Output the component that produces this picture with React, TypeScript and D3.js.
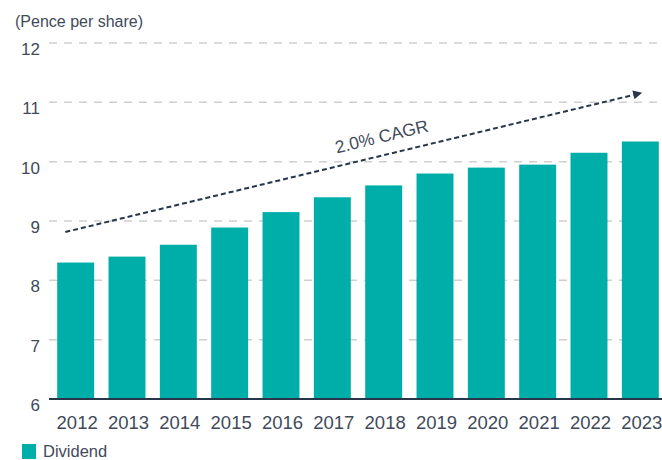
import React from "react";
import * as d3 from "d3";

const years = ["2012", "2013", "2014", "2015", "2016", "2017", "2018", "2019", "2020", "2021", "2022", "2023"];
const dividend = [8.3, 8.4, 8.6, 8.89, 9.15, 9.4, 9.6, 9.8, 9.9, 9.95, 10.15, 10.34];
const yTicks = [6, 7, 8, 9, 10, 11, 12];
const unitLabel = "(Pence per share)";
const seriesName = "Dividend";
const cagrLabel = "2.0% CAGR";
const trendStart = 8.815;
const trendEnd = 11.16;

const W = 662;
const H = 460;
const TEAL = "#00aea9";
const TEXT = "#3f4a5a";
const DARK = "#27364a";
const FONT = "'Liberation Sans', Arial, Helvetica, sans-serif";

export default function App() {
  const x = d3.scaleBand<string>().domain(years).range([50, 666]).paddingInner(0.28).paddingOuter(0.14);
  const y = d3.scaleLinear().domain([6, 12]).range([399, 43]);
  const bw = x.bandwidth();

  const x0 = (x(years[0]) as number) + bw * 0.22;
  const y0 = y(trendStart);
  const x1 = (x(years[years.length - 1]) as number) + bw * 0.55;
  const y1 = y(trendEnd);
  const ang = Math.atan2(y1 - y0, x1 - x0);
  const angDeg = (ang * 180) / Math.PI;
  const ah = 9, aw = 4.5;
  const bx = x1 - ah * Math.cos(ang), by = y1 - ah * Math.sin(ang);
  const px = -Math.sin(ang), py = Math.cos(ang);
  const head = `${x1},${y1} ${bx + px * aw},${by + py * aw} ${bx - px * aw},${by - py * aw}`;
  const tx = 383;
  const lineY = y0 + (tx - x0) * Math.tan(ang);
  const off = 13;

  return (
    <svg width={W} height={H} style={{ position: "absolute", left: 0, top: 0 }} fontFamily={FONT}>
      <rect width={W} height={H} fill="#fff" />
      <text x={15} y={27} fontSize={16} fill={TEXT}>{unitLabel}</text>
      {yTicks.map((t) => (
        <g key={t}>
          {t !== 6 && (
            <line x1={49} x2={W} y1={y(t)} y2={y(t)} stroke="#cfcfcf" strokeWidth={1.5} strokeDasharray="8,7" />
          )}
          <text x={40} y={y(t) + 12} fontSize={17} textAnchor="end" fill={TEXT}>{t}</text>
        </g>
      ))}
      {years.map((yr, i) => (
        <rect key={yr} x={x(yr)} y={y(dividend[i])} width={bw} height={y(6) - y(dividend[i])} fill={TEAL} />
      ))}
      <line x1={49} x2={W} y1={y(6)} y2={y(6)} stroke={DARK} strokeWidth={2} />
      {years.map((yr) => (
        <text key={yr} x={(x(yr) as number) + bw / 2 + 1.5} y={429} fontSize={18.5} textAnchor="middle" fill={TEXT}>{yr}</text>
      ))}
      <line x1={x0} y1={y0} x2={bx} y2={by} stroke={DARK} strokeWidth={2} strokeDasharray="5,3" />
      <polygon points={head} fill={DARK} />
      <text
        x={tx}
        y={lineY - off}
        fontSize={17.5}
        fill={TEXT}
        textAnchor="middle"
        transform={`rotate(${angDeg}, ${tx}, ${lineY - off})`}
      >{cagrLabel}</text>
      <rect x={22} y={444} width={14} height={15} fill={TEAL} />
      <text x={43} y={457} fontSize={16.5} fill={TEXT}>{seriesName}</text>
    </svg>
  );
}
